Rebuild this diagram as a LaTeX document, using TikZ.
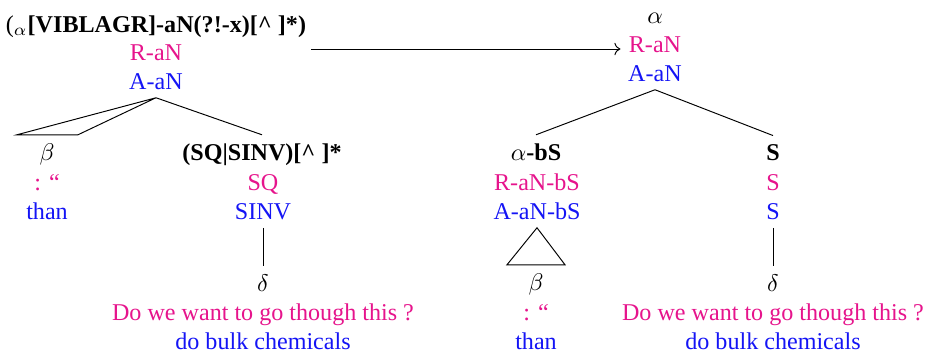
\documentclass[tikz,border=0pt]{standalone}
\usepackage{fontspec}
\setmainfont{Liberation Serif}
\usepackage{xcolor}
\usepackage{tikz}
\usetikzlibrary{calc, arrows.meta}
\definecolor{rulecol}{RGB}{230, 20, 140}
\definecolor{annocol}{RGB}{20, 20, 245}

\begin{document}
\begin{tikzpicture}[x=0.415pt, y=-0.415pt, font=\fontsize{10}{12}\selectfont,
  lab/.style={anchor=base, inner sep=3.33pt},
  rlab/.style={lab, text=rulecol},
  alab/.style={lab, text=annocol}]
  \useasboundingbox (0,0) rectangle (929,356);

  % Left tree: root
  \node[lab]  (lroot)  at (156,32) {($_\alpha$\textbf{[VIBLAGR]-aN(?!-x)[\^{} ]*)}};
  \node[rlab] (lrootR) at (156,60) {R-aN};
  \node[alab] (lrootA) at (156,89) {A-aN};

  % Left tree: beta child
  \node[lab]  (lbeta)  at (47,160) {$\beta$};
  \node[rlab] (lbetaR) at (47,190) {: “};
  \node[alab] (lbetaA) at (47,219) {than};

  % Left tree: SQ child
  \node[lab]  (lsq)  at (262,160) {\textbf{(SQ|SINV)[\^{} ]*}};
  \node[rlab] (lsqR) at (263,190) {SQ};
  \node[alab] (lsqA) at (263,219) {SINV};

  % Left tree: delta leaf
  \node[lab]  (ldelta)  at (263,291) {$\delta$};
  \node[rlab] (ldeltaR) at (263,320) {Do we want to go though this ?};
  \node[alab] (ldeltaA) at (263,349) {do bulk chemicals};

  % Right tree: root
  \node[lab]  (rroot)  at (655,23) {$\alpha$};
  \node[rlab] (rrootR) at (655,52) {R-aN};
  \node[alab] (rrootA) at (655,81) {A-aN};

  % Right tree: bS child
  \node[lab]  (rbs)  at (536,160) {$\alpha$\textbf{-bS}};
  \node[rlab] (rbsR) at (537,190) {R-aN-bS};
  \node[alab] (rbsA) at (537,219) {A-aN-bS};

  % Right tree: beta leaf
  \node[lab]  (rbeta)  at (536,290) {$\beta$};
  \node[rlab] (rbetaR) at (536,320) {: “};
  \node[alab] (rbetaA) at (536,349) {than};

  % Right tree: S child
  \node[lab]  (rs)  at (773,160) {\textbf{S}};
  \node[rlab] (rsR) at (773,190) {S};
  \node[alab] (rsA) at (773,219) {S};

  % Right tree: delta leaf
  \node[lab]  (rdelta)  at (773,291) {$\delta$};
  \node[rlab] (rdeltaR) at (773,320) {Do we want to go though this ?};
  \node[alab] (rdeltaA) at (773,349) {do bulk chemicals};

  % Triangle corners
  \coordinate (ltriL) at ($(lbeta.north)+(-30,0)$);
  \coordinate (ltriR) at ($(lbeta.north)+(31,0)$);
  \coordinate (rtriL) at ($(rbeta.north)+(-29,0)$);
  \coordinate (rtriR) at ($(rbeta.north)+(29,0)$);

  % Left edges
  \draw (lrootA.south) -- (ltriL) -- (ltriR) -- cycle;
  \draw (lrootA.south) -- (lsq.north);
  \draw (lsqA.south) -- (ldelta.north);

  % Right edges
  \draw (rrootA.south) -- (rbs.north);
  \draw (rrootA.south) -- (rs.north);
  \draw (rbsA.south) -- (rtriL) -- (rtriR) -- cycle;
  \draw (rsA.south) -- (rdelta.north);

  % Transformation arrow
  \coordinate (arrS) at (311,49);
  \draw[->] (arrS) -- (arrS -| rrootR.west);
\end{tikzpicture}
\end{document}
